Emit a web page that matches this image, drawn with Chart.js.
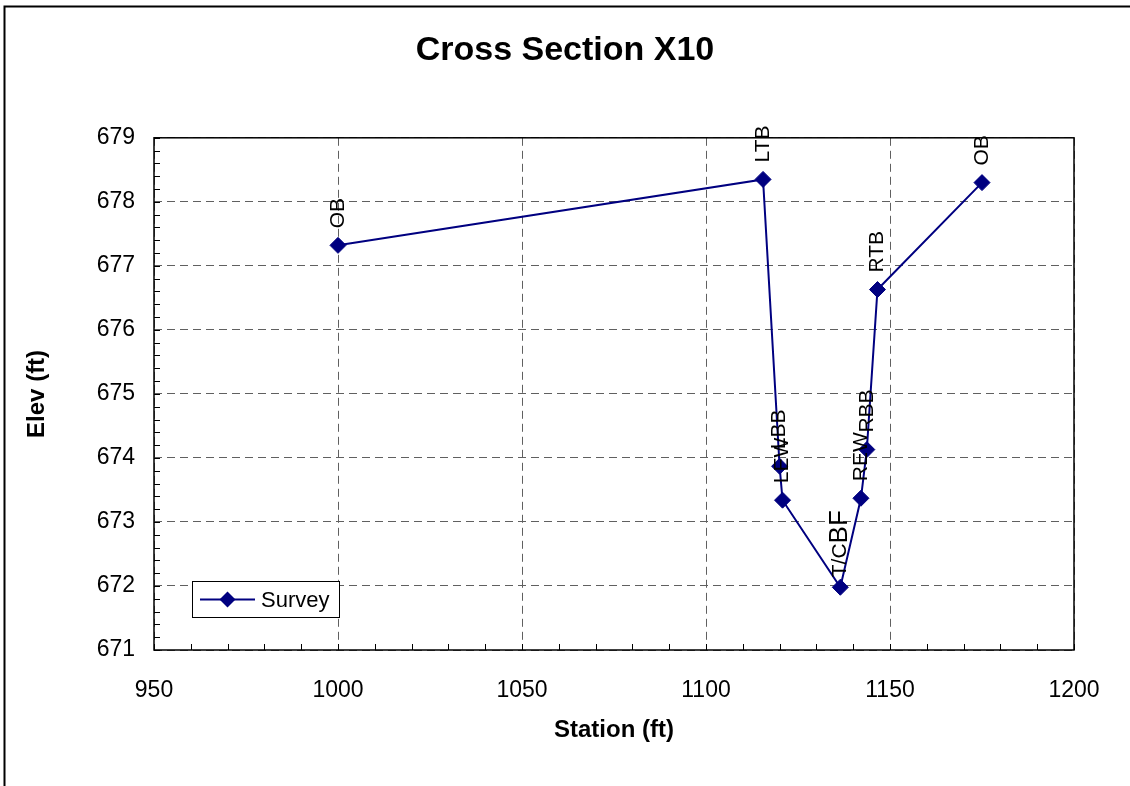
<!DOCTYPE html>
<html>
<head>
<meta charset="utf-8">
<title>Cross Section X10</title>
<script src="https://cdn.jsdelivr.net/npm/chart.js@4.4.1/dist/chart.umd.min.js"></script>
<style>
  html, body { margin: 0; padding: 0; background: #fff; }
  #wrap { width: 1130px; height: 786px; }
</style>
</head>
<body>
<div id="wrap"><canvas id="xs" width="1130" height="786"></canvas></div>
<script>
// survey points
const stations = [1000, 1115.5, 1120.0, 1120.8, 1136.5, 1142.1, 1143.7, 1146.6, 1175.0];
const elevations = [677.32, 678.35, 673.87, 673.34, 671.98, 673.37, 674.13, 676.63, 678.30];
const pointLabels = ['OB', 'LTB', 'LBB', 'LEW', 'T/C', 'REW', 'RBB', 'RTB', 'OB'];
const extraLabels = ['', '', '', '', 'BF', '', '', '', ''];

const xTicks = [950, 1000, 1050, 1100, 1150, 1200];
const yTicks = [671, 672, 673, 674, 675, 676, 677, 678, 679];

const navy = '#000080';
const FONT = 'Arial, "Liberation Sans", sans-serif';

const points = stations.map((s, i) => ({ x: s, y: elevations[i] }));

// frame, plot border, minor ticks, point labels and legend box
const decor = {
  id: 'decor',
  beforeDraw(chart) {
    const ctx = chart.ctx;
    ctx.save();
    ctx.fillStyle = '#fff';
    ctx.fillRect(0, 0, chart.width, chart.height);
    ctx.strokeStyle = '#000';
    ctx.lineWidth = 2;
    ctx.beginPath();
    ctx.moveTo(4.5, chart.height);
    ctx.lineTo(4.5, 6.5);
    ctx.lineTo(chart.width, 6.5);
    ctx.stroke();
    ctx.restore();
  },
  beforeDatasetsDraw(chart) {
    const { ctx, chartArea: a, scales: { x, y } } = chart;
    ctx.save();
    ctx.strokeStyle = '#000';
    ctx.lineWidth = 1.5;
    ctx.strokeRect(a.left, a.top, a.right - a.left, a.bottom - a.top);
    ctx.lineWidth = 1;
    ctx.beginPath();
    for (let v = y.min; v <= y.max + 1e-6; v += 0.2) {
      const py = Math.round(y.getPixelForValue(v)) + 0.5;
      ctx.moveTo(a.left, py);
      ctx.lineTo(a.left + 6, py);
    }
    for (let v = x.min; v <= x.max + 1e-6; v += 10) {
      const px = Math.round(x.getPixelForValue(v)) + 0.5;
      ctx.moveTo(px, a.bottom);
      ctx.lineTo(px, a.bottom - 6);
    }
    ctx.stroke();
    ctx.restore();
  },
  afterDatasetsDraw(chart) {
    const ctx = chart.ctx;
    const meta = chart.getDatasetMeta(0);
    ctx.save();
    ctx.fillStyle = '#000';
    ctx.textBaseline = 'middle';
    ctx.textAlign = 'left';
    meta.data.forEach((pt, i) => {
      ctx.save();
      ctx.translate(pt.x, pt.y);
      ctx.rotate(-Math.PI / 2);
      ctx.font = '21px ' + FONT;
      const off = extraLabels[i] ? 10 : 17;
      ctx.fillText(pointLabels[i], off, 0);
      if (extraLabels[i]) {
        const w = ctx.measureText(pointLabels[i]).width;
        ctx.font = '26px ' + FONT;
        ctx.fillText(extraLabels[i], off + w, 0);
      }
      ctx.restore();
    });

    // legend
    const ds = chart.data.datasets[0];
    const bx = 192.5, by = 581.5, bw = 147, bh = 36;
    ctx.fillStyle = '#fff';
    ctx.fillRect(bx, by, bw, bh);
    ctx.strokeStyle = '#000';
    ctx.lineWidth = 1;
    ctx.strokeRect(bx, by, bw, bh);
    const ly = by + bh / 2;
    ctx.strokeStyle = ds.borderColor;
    ctx.lineWidth = ds.borderWidth;
    ctx.beginPath();
    ctx.moveTo(200, ly);
    ctx.lineTo(255, ly);
    ctx.stroke();
    ctx.fillStyle = ds.pointBackgroundColor;
    const r = ds.pointRadius;
    ctx.beginPath();
    ctx.moveTo(227.5 - r, ly);
    ctx.lineTo(227.5, ly - r);
    ctx.lineTo(227.5 + r, ly);
    ctx.lineTo(227.5, ly + r);
    ctx.closePath();
    ctx.fill();
    ctx.fillStyle = '#000';
    ctx.font = '22px ' + FONT;
    ctx.textAlign = 'left';
    ctx.fillText(ds.label, 261, ly + 1);
    ctx.restore();
  }
};

new Chart(document.getElementById('xs'), {
  type: 'scatter',
  data: {
    datasets: [{
      label: 'Survey',
      data: points,
      showLine: true,
      borderColor: navy,
      borderWidth: 2,
      pointStyle: 'rectRot',
      pointRadius: 8,
      pointBackgroundColor: navy,
      pointBorderColor: navy,
      pointBorderWidth: 1
    }]
  },
  options: {
    responsive: false,
    animation: false,
    devicePixelRatio: 1,
    layout: { padding: 0 },
    plugins: {
      legend: { display: false },
      tooltip: { enabled: false },
      title: {
        display: true,
        text: 'Cross Section X10',
        color: '#000',
        font: { family: FONT, size: 34, weight: 'bold' },
        padding: { top: 30, bottom: 67 }
      }
    },
    scales: {
      x: {
        type: 'linear',
        min: xTicks[0],
        max: xTicks[xTicks.length - 1],
        afterBuildTicks: (s) => { s.ticks = xTicks.map(v => ({ value: v })); },
        afterFit: (s) => { s.height = 136; },
        grid: { color: '#606060', lineWidth: 1, drawTicks: false },
        border: { display: false, dash: [8, 5] },
        ticks: { color: '#000', font: { family: FONT, size: 23 }, padding: 27, maxRotation: 0, callback: v => String(v) },
        title: {
          display: true,
          text: 'Station (ft)',
          color: '#000',
          font: { family: FONT, size: 24, weight: 'bold' },
          padding: { top: 0, bottom: 41 }
        }
      },
      y: {
        type: 'linear',
        min: yTicks[0],
        max: yTicks[yTicks.length - 1],
        afterBuildTicks: (s) => { s.ticks = yTicks.map(v => ({ value: v })); },
        afterFit: (s) => { s.width = 154; },
        grid: { color: '#606060', lineWidth: 1, drawTicks: false },
        border: { display: false, dash: [8, 5] },
        ticks: { color: '#000', font: { family: FONT, size: 23 }, padding: 19, callback: v => String(v) },
        title: {
          display: true,
          text: 'Elev (ft)',
          color: '#000',
          font: { family: FONT, size: 24, weight: 'bold' },
          padding: { top: 23, bottom: 0 }
        }
      },
      // empty right-hand spacer so the title centres on the page, not the plot
      pad: {
        type: 'linear',
        position: 'right',
        display: true,
        afterFit: (s) => { s.width = 56; },
        grid: { display: false },
        border: { display: false },
        ticks: { display: false }
      }
    }
  },
  plugins: [decor]
});
</script>
</body>
</html>
